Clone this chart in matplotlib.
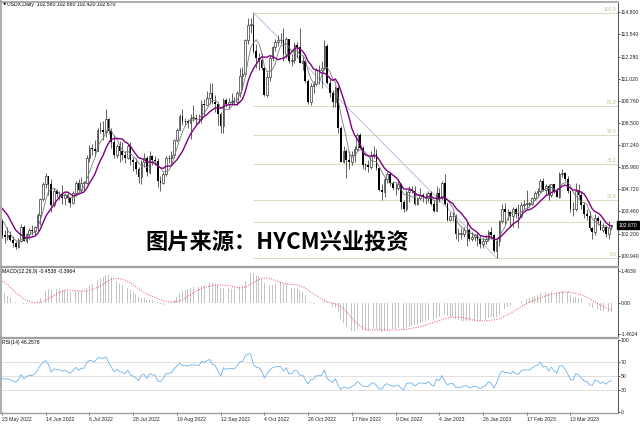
import numpy as np
import matplotlib
matplotlib.use("Agg")
import matplotlib.pyplot as plt
from matplotlib import font_manager
from matplotlib.lines import Line2D
from matplotlib.transforms import blended_transform_factory as blend

# closes before the first visible bar, only used to warm up the indicators
warmup = [96.3, 96.0, 95.8, 95.8, 96.0, 96.0, 96.0, 96.2, 97.1, 96.6, 96.7,
          97.4, 97.4, 97.7, 98.6, 99.0, 99.0, 97.9, 98.5, 99.1, 99.0, 98.9,
          98.5, 97.9, 98.2, 98.5, 98.4, 98.6, 98.8, 98.8, 99.0, 98.4, 97.8, 98.3,
          98.6, 99.0, 99.5, 99.6, 99.8, 99.8, 99.9, 100.3, 99.9, 100.5, 100.5,
          100.9, 101.0, 100.4, 100.6, 101.1, 101.8, 102.3, 102.9, 103.7, 103.0,
          103.7, 103.5, 102.6, 103.6, 103.7, 103.7, 103.9, 103.9, 104.8, 104.6,
          104.2, 103.3, 103.8, 102.8, 103.0]

# USDX daily, 23 May 2022 .. 3 Apr 2023
opens = [
    103.0, 102.1, 102.0, 102.1, 101.85, 101.65, 101.45, 101.75, 102.55, 101.8,
    102.15, 102.4, 102.35, 102.55, 103.25, 104.15, 105.05, 105.5, 105.0, 103.8,
    104.6, 104.45, 104.45, 104.2, 104.4, 104.2, 103.95, 104.5, 105.1, 104.7,
    105.1, 105.1, 106.5, 107.05, 107.0, 106.9, 108.1, 108.1, 108.0, 108.7,
    108.05, 107.4, 106.7, 107.2, 106.9, 106.7, 106.5, 107.2, 106.4, 106.25,
    105.9, 105.4, 106.3, 106.5, 105.7, 106.6, 106.4, 106.35, 105.2, 105.1,
    105.6, 106.5, 106.5, 106.7, 107.5, 108.1, 108.9, 108.6, 108.6, 108.5,
    108.8, 108.8, 108.75, 108.7, 109.6, 109.5, 109.9, 110.2, 109.7, 109.6,
    109.0, 108.3, 109.8, 109.6, 109.7, 109.75, 109.7, 110.2, 111.2, 111.3,
    113.2, 114.1, 114.1, 112.6, 112.2, 112.1, 111.6, 110.1, 111.1, 112.2,
    112.8, 113.1, 113.2, 113.2, 112.4, 113.3, 112.0, 112.1, 112.95, 112.85,
    111.9, 112.0, 110.9, 109.7, 110.6, 110.7, 111.5, 111.5, 111.6, 112.9,
    110.8, 110.2, 109.7, 110.5, 108.2, 106.3, 106.9, 106.4, 106.3, 106.7,
    107.0, 107.8, 107.1, 106.1, 106.1, 106.0, 106.6, 106.75, 105.95, 104.7,
    104.55, 105.3, 105.6, 105.1, 104.8, 104.8, 105.0, 104.0, 103.6, 104.55,
    104.7, 104.6, 103.9, 104.2, 104.4, 104.3, 104.2, 104.5, 103.9, 103.5,
    104.5, 104.25, 105.1, 103.9, 103.0, 103.2, 103.2, 102.2, 102.2, 102.2,
    102.4, 102.4, 101.9, 102.0, 102.1, 101.9, 101.6, 101.8, 101.9, 102.3,
    102.1, 101.2, 101.75, 102.9, 103.6, 103.4, 103.4, 103.2, 103.6, 103.3,
    103.2, 103.8, 103.9, 103.9, 103.9, 104.2, 104.5, 104.6, 105.2, 104.7,
    104.9, 104.4, 105.0, 104.6, 104.3, 105.6, 105.65, 105.3, 104.6, 103.6,
    103.6, 104.65, 104.4, 103.85, 103.3, 103.2, 102.5, 102.3, 103.1, 102.9,
    102.4, 102.6, 102.15, 102.56]
highs = [
    103.05, 102.4, 102.55, 102.35, 102.05, 101.75, 101.95, 102.75, 102.7, 102.25,
    102.5, 102.7, 102.65, 103.35, 104.2, 105.15, 105.65, 105.5, 105.3, 104.8,
    104.75, 104.65, 104.95, 104.5, 104.5, 104.25, 104.6, 105.2, 105.3, 105.4,
    105.2, 106.7, 107.25, 107.3, 107.5, 108.2, 108.55, 108.6, 109.3, 108.8,
    108.2, 107.8, 107.3, 107.45, 107.4, 106.9, 107.3, 107.4, 106.55, 106.5,
    106.0, 106.4, 106.8, 106.6, 106.9, 106.7, 106.6, 106.5, 105.5, 105.7,
    106.6, 106.7, 106.9, 107.6, 108.2, 109.0, 109.3, 108.8, 108.7, 109.0,
    109.5, 109.0, 109.0, 109.8, 109.85, 110.3, 110.8, 110.8, 110.1, 109.7,
    109.1, 109.9, 109.9, 109.9, 110.2, 110.0, 110.3, 111.6, 111.7, 113.3,
    114.5, 114.5, 114.78, 113.0, 112.5, 112.5, 111.7, 111.4, 112.3, 112.9,
    113.3, 113.5, 113.6, 113.9, 113.4, 113.3, 112.4, 113.1, 113.1, 113.9,
    112.3, 112.1, 111.0, 110.8, 110.9, 111.6, 111.8, 112.0, 113.2, 113.0,
    111.0, 110.4, 110.6, 110.6, 108.3, 107.2, 107.0, 106.9, 106.9, 107.2,
    107.95, 107.9, 107.2, 106.2, 106.4, 106.9, 107.2, 107.0, 106.0, 105.0,
    105.4, 105.7, 105.7, 105.2, 105.1, 105.2, 105.1, 104.1, 104.7, 104.9,
    104.9, 104.9, 104.3, 104.8, 104.5, 104.5, 104.6, 104.6, 104.1, 104.9,
    104.8, 105.2, 105.6, 104.0, 103.4, 103.4, 103.3, 102.5, 102.5, 102.6,
    102.9, 102.5, 102.3, 102.2, 102.3, 102.1, 102.0, 102.1, 102.4, 102.6,
    102.2, 101.9, 103.0, 103.9, 103.95, 103.6, 103.5, 103.7, 103.7, 103.9,
    104.0, 104.1, 104.7, 104.0, 104.3, 104.6, 104.8, 105.3, 105.35, 105.0,
    105.0, 105.0, 105.05, 104.8, 105.7, 105.9, 105.7, 105.5, 104.7, 104.0,
    105.1, 105.0, 104.6, 104.0, 103.6, 103.5, 102.6, 103.3, 103.2, 103.0,
    102.8, 102.7, 102.9, 102.68]
lows = [
    101.95, 101.65, 101.85, 101.75, 101.45, 101.3, 101.35, 101.7, 101.75, 101.65,
    101.9, 102.1, 102.1, 102.35, 102.7, 104.05, 104.8, 104.4, 103.4, 103.7,
    104.3, 104.1, 103.9, 103.8, 104.0, 103.7, 103.9, 104.35, 104.6, 104.5,
    104.7, 105.0, 106.3, 106.7, 106.6, 106.9, 107.9, 107.5, 107.7, 107.85,
    107.1, 106.5, 106.5, 106.3, 106.4, 106.2, 106.45, 106.1, 105.75, 105.6,
    105.1, 105.05, 106.0, 105.5, 105.6, 106.1, 106.1, 104.85, 104.65, 105.0,
    105.5, 106.2, 106.1, 106.5, 107.4, 108.1, 108.4, 108.4, 108.2, 107.6,
    108.6, 108.4, 108.5, 108.5, 108.9, 109.5, 109.6, 109.6, 109.1, 108.4,
    107.9, 107.9, 109.4, 109.3, 109.5, 109.5, 109.5, 110.0, 110.4, 111.2,
    113.0, 113.6, 112.5, 111.6, 111.5, 111.5, 110.05, 110.0, 110.9, 112.0,
    112.6, 112.9, 113.0, 112.0, 112.2, 111.9, 111.75, 111.9, 112.2, 111.9,
    111.5, 110.8, 109.6, 109.5, 110.2, 110.6, 110.7, 110.5, 111.5, 110.7,
    110.0, 109.4, 109.4, 107.9, 106.25, 106.2, 105.35, 105.9, 106.1, 106.3,
    106.9, 107.0, 105.9, 105.8, 105.7, 105.9, 106.5, 105.8, 104.6, 104.1,
    104.3, 105.1, 104.9, 104.7, 104.4, 104.7, 103.6, 103.4, 103.5, 104.0,
    104.5, 103.8, 103.8, 104.1, 104.0, 103.9, 104.0, 103.8, 103.4, 103.5,
    104.0, 104.1, 103.8, 102.9, 102.9, 102.9, 101.9, 101.8, 101.9, 102.0,
    101.5, 101.8, 101.8, 101.8, 101.5, 101.4, 101.4, 101.6, 101.8, 101.9,
    101.15, 100.82, 101.5, 102.8, 102.7, 103.0, 102.6, 102.6, 103.1, 102.5,
    103.1, 103.6, 103.6, 103.7, 103.8, 104.1, 104.3, 104.5, 104.6, 104.4,
    104.1, 104.3, 104.5, 104.3, 104.2, 105.4, 105.2, 104.5, 103.4, 103.2,
    103.5, 104.2, 103.6, 103.1, 103.0, 102.4, 101.9, 102.1, 102.7, 102.4,
    102.3, 102.0, 101.9, 102.42]
closes = [
    102.1, 102.0, 102.1, 101.85, 101.65, 101.45, 101.75, 102.55, 101.8, 102.15,
    102.4, 102.35, 102.55, 103.25, 104.15, 105.05, 105.5, 105.0, 103.8, 104.6,
    104.45, 104.45, 104.2, 104.4, 104.2, 103.95, 104.5, 105.1, 104.7, 105.1,
    105.1, 106.5, 107.05, 107.0, 106.9, 108.1, 108.1, 108.0, 108.7, 108.05,
    107.4, 106.7, 107.2, 106.9, 106.7, 106.5, 107.2, 106.4, 106.25, 105.9,
    105.4, 106.3, 106.5, 105.7, 106.6, 106.4, 106.35, 105.2, 105.1, 105.6,
    106.5, 106.5, 106.7, 107.5, 108.1, 108.9, 108.6, 108.6, 108.5, 108.8,
    108.8, 108.75, 108.7, 109.6, 109.5, 109.9, 110.2, 109.7, 109.6, 109.0,
    108.3, 109.8, 109.6, 109.7, 109.75, 109.7, 110.2, 111.2, 111.3, 113.2,
    114.1, 114.1, 112.6, 112.2, 112.1, 111.6, 110.1, 111.1, 112.2, 112.8,
    113.1, 113.2, 113.2, 112.4, 113.3, 112.0, 112.1, 112.95, 112.85, 111.9,
    112.0, 110.9, 109.7, 110.6, 110.7, 111.5, 111.5, 111.6, 112.9, 110.8,
    110.2, 109.7, 110.5, 108.2, 106.3, 106.9, 106.4, 106.3, 106.7, 107.0,
    107.8, 107.1, 106.1, 106.1, 106.0, 106.6, 106.75, 105.95, 104.7, 104.55,
    105.3, 105.6, 105.1, 104.8, 104.8, 105.0, 104.0, 103.6, 104.55, 104.7,
    104.6, 103.9, 104.2, 104.4, 104.3, 104.2, 104.5, 103.9, 103.5, 104.5,
    104.25, 105.1, 103.9, 103.0, 103.2, 103.2, 102.2, 102.2, 102.2, 102.4,
    102.4, 101.9, 102.0, 102.1, 101.9, 101.6, 101.8, 101.9, 102.3, 102.1,
    101.2, 101.75, 102.9, 103.6, 103.4, 103.4, 103.2, 103.6, 103.3, 103.2,
    103.8, 103.9, 103.9, 103.9, 104.2, 104.5, 104.6, 105.2, 104.7, 104.9,
    104.4, 105.0, 104.6, 104.3, 105.6, 105.65, 105.3, 104.6, 103.6, 103.6,
    104.65, 104.4, 103.85, 103.3, 103.2, 102.5, 102.3, 103.1, 102.9, 102.4,
    102.6, 102.15, 102.5, 102.67]

date_labels = ["23 May 2022", "14 Jun 2022", "6 Jul 2022", "28 Jul 2022",
               "19 Aug 2022", "12 Sep 2022", "4 Oct 2022", "26 Oct 2022",
               "17 Nov 2022", "9 Dec 2022", "4 Jan 2023", "26 Jan 2023",
               "17 Feb 2023", "13 Mar 2023"]
date_bars = [0, 16, 32, 48, 64, 80, 96, 112, 128, 144, 160, 176, 192, 208]
price_ticks = [114.800, 113.540, 112.280, 111.020, 109.760, 108.500,
               107.240, 105.980, 104.720, 103.460, 102.200, 100.940]
macd_ticks = [1.4639, 0.0, -1.4624]
macd_tick_labels = ["1.4639", "0.00", "-1.4624"]
rsi_ticks = [100, 70, 50, 30, 0]
last_price = 102.670

fib_levels = [0.0, 14.6, 23.6, 38.2, 50.0, 61.8, 100.0]
fib_labels = ["0.0", "", "23.6", "38.2", "50.0", "61.8", "100.0"]
fib_high, fib_low = 114.78, 100.82
fib_high_bar, fib_low_bar = 92, 181

header = "USDX,Daily  102.560 102.680 102.420 102.670"
macd_header = "MACD(12,26,9) -0.4538 -0.3964"
rsi_header = "RSI(14) 46.2578"
watermark = "图片来源：HYCM兴业投资"


# indicators, computed over warmup + visible closes
def sma(a, n):
    out = np.full(len(a), np.nan)
    cs = np.cumsum(a)
    out[n - 1:] = (cs[n - 1:] - np.concatenate(([0.0], cs[:-n]))) / n
    return out


def ema(a, n):
    k = 2.0 / (n + 1)
    out = np.empty(len(a))
    out[0] = a[0]
    for i in range(1, len(a)):
        out[i] = a[i] * k + out[i - 1] * (1 - k)
    return out


def rsi_wilder(a, n):
    d = np.diff(a, prepend=a[0])
    g = np.clip(d, 0, None)
    lo = np.clip(-d, 0, None)
    ag = np.full(len(a), np.nan)
    al = np.full(len(a), np.nan)
    ag[n] = g[1:n + 1].mean()
    al[n] = lo[1:n + 1].mean()
    for i in range(n + 1, len(a)):
        ag[i] = (ag[i - 1] * (n - 1) + g[i]) / n
        al[i] = (al[i - 1] * (n - 1) + lo[i]) / n
    return 100 - 100 / (1 + ag / al)


allc = np.array(warmup + closes)
nw = len(warmup)
ma_fast = sma(allc, 5)[nw:]
ma_slow = sma(allc, 10)[nw:]
macd_all = ema(allc, 12) - ema(allc, 26)
macd = macd_all[nw:]
signal = sma(macd_all, 9)[nw:]
rsi = rsi_wilder(allc, 14)[nw:]

o, h, l, c = map(np.array, (opens, highs, lows, closes))
x = np.arange(len(c))

# fonts
names = {f.name for f in font_manager.fontManager.ttflist}
small = ["Liberation Sans Narrow", "DejaVu Sans"] if "Liberation Sans Narrow" in names \
    else ["Liberation Sans", "DejaVu Sans"]
fs = 3.7

W, H = 640, 425


def box(top, bottom, left=2, right=618):
    return [left / W, 1 - bottom / H, (right - left) / W, (bottom - top) / H]


fig = plt.figure(figsize=(6.4, 4.25), dpi=100)
fig.patch.set_facecolor("white")
ax = fig.add_axes(box(3, 265))
axm = fig.add_axes(box(268, 336), sharex=ax)
axr = fig.add_axes(box(340, 412), sharex=ax)

xl = (0.6, 0.6 + 616 / 2.74)

for a in (ax, axm, axr):
    for s in ("top", "left", "bottom"):
        a.spines[s].set_visible(False)
    a.spines["right"].set_linewidth(0.6)
    a.spines["right"].set_color("#333333")
    a.yaxis.tick_right()
    a.tick_params(axis="y", length=1.5, width=0.5, pad=0.6, labelsize=fs,
                  colors="#222222")
    a.tick_params(axis="x", bottom=False, labelbottom=False)

# main price panel
ax.set_xlim(*xl)
ax.set_ylim(100.41, 115.33)

fib_prices = fib_low + (fib_high - fib_low) * np.array(fib_levels) / 100
ax.hlines(fib_prices, fib_high_bar, xl[1], color="#dcdcc4", lw=0.8, zorder=1)
tr = blend(ax.transAxes, ax.transData)
for lab, p in zip(fib_labels, fib_prices):
    if lab:
        ax.text(0.998, p + 0.05, lab, transform=tr, ha="right", va="bottom",
                fontsize=3.6, color="#c4c490", family=small)
ax.plot([fib_high_bar, fib_low_bar], [fib_high, fib_low], color="#bcbce0",
        lw=0.7, zorder=1)

up = c >= o
ax.vlines(x, l, h, color="#222222", lw=0.5, zorder=3)
ax.bar(x[up], np.maximum(c - o, 0.02)[up], bottom=o[up], width=0.62,
       facecolor="white", edgecolor="#222222", lw=0.45, zorder=4)
ax.bar(x[~up], (o - c)[~up], bottom=c[~up], width=0.62, color="black", zorder=4)

ax.plot(x, ma_fast, color="#7a7a7a", lw=0.6, zorder=5)
ax.plot(x, ma_slow, color="#800080", lw=1.0, zorder=5)

ax.set_yticks(price_ticks, [f"{p:.3f}" for p in price_ticks])
ax.text(1.0015, last_price, f"{last_price:.3f}", transform=tr, ha="left",
        va="center", fontsize=fs, color="white", family=small, zorder=10,
        bbox=dict(boxstyle="square,pad=0.3", fc="black", ec="black"),
        clip_on=False)

# MACD panel
axm.set_ylim(-1.540, 1.588)
axm.bar(x, macd, width=0.3, color="#c4c4c4", zorder=2)
axm.plot(x, signal, color="#e8505a", lw=0.7, ls=(0, (1, 1.5)), zorder=3)
axm.set_yticks(macd_ticks, macd_tick_labels)

# RSI panel
axr.set_ylim(-0.4, 100)
for lv in (70, 50, 30):
    axr.axhline(lv, color="#dadada", lw=0.6, zorder=1)
axr.plot(x, rsi, color="#6fb0ec", lw=0.6, zorder=3)
axr.set_yticks(rsi_ticks, [str(v) for v in rsi_ticks])
axr.set_xticks(date_bars, date_labels)
axr.tick_params(axis="x", bottom=True, labelbottom=True, length=2.5, width=0.5,
                pad=1.2, labelsize=fs, colors="#222222")
for t in axr.get_xticklabels():
    t.set_ha("left")

for a in (ax, axm, axr):
    for t in a.get_yticklabels() + a.get_xticklabels():
        t.set_family(small)

# window frame and panel separators
frame = dict(color="#a0a0a0", transform=fig.transFigure, zorder=20)
fig.add_artist(Line2D([0, 618 / W], [1 - 1.5 / H] * 2, lw=1.2, **frame))
fig.add_artist(Line2D([0.8 / W] * 2, [1 - 413 / H, 1], lw=1.2, **frame))
fig.add_artist(Line2D([0, 618 / W], [1 - 266.8 / H] * 2, lw=1.6, **frame))
fig.add_artist(Line2D([0, 618 / W], [1 - 338.2 / H] * 2, lw=1.6, **frame))
fig.add_artist(Line2D([0, 618 / W], [1 - 412.8 / H] * 2, lw=1.0, **frame))

# headers
fig.text(2.5 / W, 1 - 4.5 / H, "▼", fontsize=3.2, va="center", color="black")
fig.text(7 / W, 1 - 4.5 / H, header, fontsize=fs, va="center", family=small)
fig.text(2.5 / W, 1 - 271.8 / H, macd_header, fontsize=fs, va="center",
         family=small)
fig.text(2.5 / W, 1 - 342.5 / H, rsi_header, fontsize=fs, va="center",
         family=small)

# watermark
fig.text(277 / W, 1 - 242 / H, watermark, fontsize=16, fontweight="bold",
         ha="center", va="center", color="black", zorder=30,
         family=["Noto Sans CJK SC", "DejaVu Sans"])

fig.savefig("out.png", dpi=100)
